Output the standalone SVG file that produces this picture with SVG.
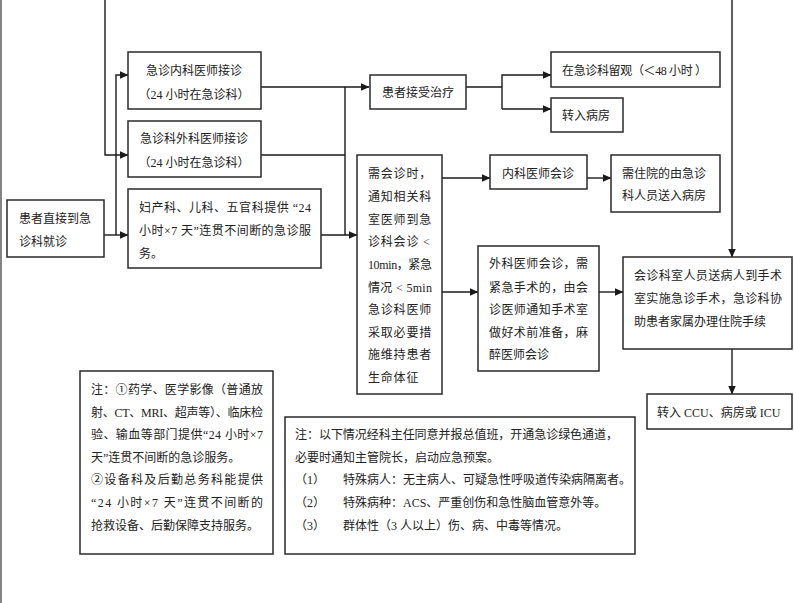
<svg xmlns="http://www.w3.org/2000/svg" width="794" height="603" viewBox="0 0 794 603">
<style>
.b{fill:#fff;stroke:#2a2a2a;stroke-width:1.5}
.c{fill:none;stroke:#1a1a1a;stroke-width:1.4}
text{font-family:"Liberation Serif","Noto Sans CJK SC",serif;font-size:12px;fill:#222}
.m{text-anchor:middle}
.w{letter-spacing:0.8px}
</style>
<defs>
<marker id="a" markerUnits="userSpaceOnUse" markerWidth="9" markerHeight="8" refX="8.5" refY="4" orient="auto">
<path d="M0,0 L9,4 L0,8 z" fill="#1a1a1a"/>
</marker>
</defs>
<rect width="794" height="603" fill="#fff"/>
<line x1="1" y1="0" x2="1" y2="603" stroke="#333" stroke-width="1.2"/>
<g id="connectors">
<path class="c" d="M105,0 V155 H128" marker-end="url(#a)"/>
<path class="c" d="M104,235 H128" marker-end="url(#a)"/>
<path class="c" d="M116,235 V75 H128" marker-end="url(#a)"/>
<path class="c" d="M261,87 H369" marker-end="url(#a)"/>
<path class="c" d="M261,155 H345"/>
<path class="c" d="M345,87 V235"/>
<path class="c" d="M321,235 H357" marker-end="url(#a)"/>
<path class="c" d="M466,87 H502"/>
<path class="c" d="M502,109 V75 H551" marker-end="url(#a)"/>
<path class="c" d="M502,109 H551" marker-end="url(#a)"/>
<path class="c" d="M442,178 H490" marker-end="url(#a)"/>
<path class="c" d="M587,178 H611" marker-end="url(#a)"/>
<path class="c" d="M442,292 H478" marker-end="url(#a)"/>
<path class="c" d="M599,292 H623" marker-end="url(#a)"/>
<path class="c" d="M732,0 V257" marker-end="url(#a)"/>
<path class="c" d="M732,349 V394" marker-end="url(#a)"/>
</g>
<g id="n-start">
<rect class="b" x="7" y="200" width="97" height="57"/>
<text x="19" y="223">患者直接到急</text>
<text x="19" y="246">诊科就诊</text>
</g>
<g id="n-internal">
<rect class="b" x="128" y="52" width="133" height="57"/>
<text class="m" x="194" y="75">急诊内科医师接诊</text>
<text class="m" x="194" y="99">（24 小时在急诊科）</text>
</g>
<g id="n-surgery">
<rect class="b" x="128" y="121" width="133" height="56"/>
<text class="m" x="194" y="143">急诊科外科医师接诊</text>
<text class="m" x="194" y="167">（24 小时在急诊科）</text>
</g>
<g id="n-other">
<rect class="b" x="128" y="189" width="193" height="79"/>
<text x="139" y="212" textLength="172" lengthAdjust="spacing">妇产科、儿科、五官科提供 “24</text>
<text x="139" y="235" textLength="172" lengthAdjust="spacing">小时×7 天”连贯不间断的急诊服</text>
<text x="139" y="258">务。</text>
</g>
<g id="n-treat">
<rect class="b" x="370" y="75" width="96" height="34"/>
<text class="m" x="418" y="97">患者接受治疗</text>
</g>
<g id="n-observe">
<rect class="b" x="551" y="52" width="169" height="35"/>
<text x="562" y="75" textLength="145" lengthAdjust="spacing">在急诊科留观（＜48 小时 ）</text>
</g>
<g id="n-ward">
<rect class="b" x="551" y="98" width="72" height="34"/>
<text x="562" y="120">转入病房</text>
</g>
<g id="n-consult">
<rect class="b" x="357" y="155" width="85" height="239"/>
<text class="w" x="368" y="178">需会诊时，</text>
<text class="w" x="368" y="201">通知相关科</text>
<text class="w" x="368" y="224">室医师到急</text>
<text class="w" x="368" y="246">诊科会诊 &lt;</text>
<text x="368" y="269" textLength="64" lengthAdjust="spacing">10min，紧急</text>
<text x="368" y="292" textLength="64" lengthAdjust="spacing">情况 &lt; 5min</text>
<text class="w" x="368" y="314">急诊科医师</text>
<text class="w" x="368" y="337">采取必要措</text>
<text class="w" x="368" y="359">施维持患者</text>
<text class="w" x="368" y="382">生命体征</text>
</g>
<g id="n-med-consult">
<rect class="b" x="490" y="155" width="97" height="34"/>
<text class="m" x="538" y="178">内科医师会诊</text>
</g>
<g id="n-admit">
<rect class="b" x="611" y="155" width="109" height="57"/>
<text x="622" y="178">需住院的由急诊</text>
<text x="622" y="200">科人员送入病房</text>
</g>
<g id="n-surg-consult">
<rect class="b" x="478" y="246" width="121" height="125"/>
<text x="489" y="268" textLength="99" lengthAdjust="spacing">外科医师会诊，需</text>
<text x="489" y="292" textLength="99" lengthAdjust="spacing">紧急手术的，由会</text>
<text x="489" y="314" textLength="99" lengthAdjust="spacing">诊医师通知手术室</text>
<text x="489" y="337" textLength="99" lengthAdjust="spacing">做好术前准备，麻</text>
<text x="489" y="359">醉医师会诊</text>
</g>
<g id="n-operate">
<rect class="b" x="623" y="257" width="169" height="92"/>
<text x="634" y="280" textLength="148" lengthAdjust="spacing">会诊科室人员送病人到手术</text>
<text x="634" y="303" textLength="148" lengthAdjust="spacing">室实施急诊手术，急诊科协</text>
<text x="634" y="326">助患者家属办理住院手续</text>
</g>
<g id="n-icu">
<rect class="b" x="647" y="394" width="145" height="35"/>
<text x="657" y="417">转入 CCU、病房或 ICU</text>
</g>
<g id="note1">
<rect class="b" x="80" y="371" width="193" height="183"/>
<text x="91" y="394" textLength="172" lengthAdjust="spacing">注：①药学、医学影像（普通放</text>
<text x="91" y="417" textLength="172" lengthAdjust="spacing">射、CT、MRI、超声等）、临床检</text>
<text x="91" y="439" textLength="172" lengthAdjust="spacing">验、输血等部门提供“24 小时×7</text>
<text x="91" y="462">天”连贯不间断的急诊服务。</text>
<text x="91" y="484" textLength="172" lengthAdjust="spacing">②设备科及后勤总务科能提供</text>
<text x="91" y="507" textLength="172" lengthAdjust="spacing">“24 小时×7 天”连贯不间断的</text>
<text x="91" y="530">抢救设备、后勤保障支持服务。</text>
</g>
<g id="note2">
<rect class="b" x="285" y="417" width="350" height="137"/>
<text x="295" y="439" textLength="323" lengthAdjust="spacing">注：以下情况经科主任同意并报总值班，开通急诊绿色通道，</text>
<text x="295" y="462">必要时通知主管院长，启动应急预案。</text>
<text x="295" y="484">（1）</text>
<text x="343" y="484">特殊病人：无主病人、可疑急性呼吸道传染病隔离者。</text>
<text x="295" y="507">（2）</text>
<text x="343" y="507">特殊病种：ACS、严重创伤和急性脑血管意外等。</text>
<text x="295" y="530">（3）</text>
<text x="343" y="530">群体性（3 人以上）伤、病、中毒等情况。</text>
</g>
</svg>
